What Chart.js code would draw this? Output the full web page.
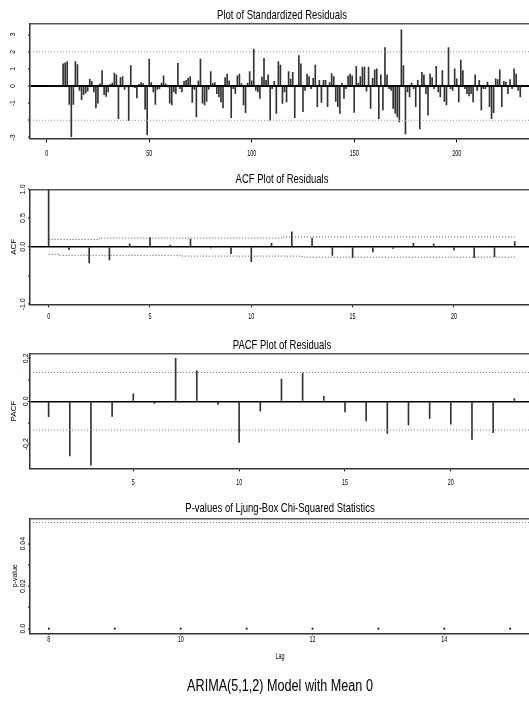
<!DOCTYPE html>
<html><head><meta charset="utf-8">
<script src="https://cdn.jsdelivr.net/npm/chart.js@4.4.1/dist/chart.umd.min.js"></script>
<style>
html,body{margin:0;padding:0;background:#fff;overflow:hidden;width:529px;height:701px;}
canvas{position:absolute;left:0;}
</style></head><body>
<canvas id="c1" width="534" height="165" style="top:0px;width:534px;height:165px"></canvas>
<canvas id="c2" width="534" height="160" style="top:165px;width:534px;height:160px"></canvas>
<canvas id="c3" width="534" height="165" style="top:325px;width:534px;height:165px"></canvas>
<canvas id="c4" width="534" height="211" style="top:490px;width:534px;height:211px"></canvas>
<script>
// ---------- DATA ----------
const residuals = [0,0,0,0,0,0,0,1.3,1.35,1.43,-1.08,-2.95,-1.08,1.43,1.25,-0.25,-0.8,-0.5,-0.4,-0.3,
0.4,0.27,-0.35,-1.27,-1.0,0.13,0.9,-0.5,-0.6,-0.35,0.1,0.17,0.75,0.65,-1.9,0.5,0.55,-0.2,-0.05,-2.0,
1.2,-0.05,-0.1,-0.7,0.1,0.2,0.15,-1.35,-2.85,1.58,0.2,-0.35,-1.08,-0.2,-0.15,0.17,0.6,0.13,-0.05,-1.0,
-1.1,-0.35,-0.45,1.33,-0.15,-0.35,0.27,0.33,0.45,0.55,-0.96,-0.2,-1.8,0.3,1.58,-1.0,-1.1,-0.9,-0.2,0.85,
0.15,0.2,-0.45,-0.63,-0.92,-1.27,0.5,0.7,0.3,-1.85,-0.15,-0.45,0.6,0.7,0.15,-1.1,-1.55,0.17,0.85,0.3,
2.15,-0.25,-0.35,-0.73,0.52,1.62,0.33,0.65,-2.0,-0.15,0.27,-1.6,1.43,1.23,-1.02,-0.35,-0.92,0.85,0.4,0.8,
-1.85,0.05,1.77,1.3,-1.5,-0.25,0.7,0.55,-0.15,0.45,1.23,-1.2,0.33,-0.96,0.33,0.33,-1.2,0.2,0.72,0.55,
-0.9,-1.2,-1.6,0.17,-0.73,-0.15,0.58,0.7,0.6,-1.54,1.15,0.17,0.55,1.1,1.1,-0.3,1.1,-1.3,0.45,0.95,
1.0,-1.9,0.65,-1.4,2.25,0.65,-0.15,-0.25,-1.3,-1.6,-1.8,-2.1,3.28,1.2,-2.8,-0.35,-0.63,0.17,-0.15,-1.2,
0.33,-2.5,0.8,0.65,-0.45,-1.7,0.7,0.5,-0.15,1.15,-0.35,-0.63,0.9,-0.9,-1.1,2.25,-0.15,-0.25,1.0,0.42,
-0.92,1.52,0.9,-0.15,-0.45,-0.58,-0.45,-0.92,0.65,-0.25,0.33,-1.4,-0.15,-0.15,0.23,-1.2,-1.9,-1.55,0.42,0.38,
0.95,-1.2,0.27,0.23,-0.45,0.38,-0.15,1.0,0.7,-0.25,-0.63];
const residualTime = residuals.map((_, i) => i + 1);
const residBand = [-2, 2];
const residXTicks = [0, 50, 100, 150, 200];
const residYTicks = [-3, -2, -1, 0, 1, 2, 3];
const residYLabels = ['-3', '', '-1', '0', '1', '2', '3'];

const acfLags = [0,1,2,3,4,5,6,7,8,9,10,11,12,13,14,15,16,17,18,19,20,21,22,23];
const acfValues = [1.0,-0.05,-0.28,-0.23,0.05,0.16,0.03,0.13,-0.02,-0.12,-0.26,0.06,0.26,0.15,-0.15,-0.19,-0.09,-0.03,0.06,0.05,-0.06,-0.19,-0.17,0.09];
const acfUpper = [0.128,0.128,0.128,0.152,0.152,0.152,0.152,0.152,0.152,0.152,0.152,0.152,0.172,0.172,0.172,0.172,0.172,0.172,0.172,0.172,0.172,0.172,0.172,0.172];
const acfLower = [-0.13,-0.148,-0.148,-0.148,-0.148,-0.148,-0.148,-0.162,-0.162,-0.162,-0.162,-0.162,-0.162,-0.18,-0.18,-0.18,-0.18,-0.18,-0.18,-0.18,-0.18,-0.18,-0.18,-0.18];
const acfXTicks = [0, 5, 10, 15, 20];
const acfYTicks = [-1, -0.5, 0, 0.5, 1];
const acfYLabels = ['-1.0', '', '0.0', '0.5', '1.0'];

const pacfLags = [1,2,3,4,5,6,7,8,9,10,11,12,13,14,15,16,17,18,19,20,21,22,23];
const pacfValues = [-0.072,-0.254,-0.297,-0.07,0.035,-0.01,0.2,0.142,-0.015,-0.192,-0.046,0.103,0.131,0.023,-0.05,-0.092,-0.15,-0.11,-0.08,-0.107,-0.177,-0.146,0.012];
const pacfBand = [-0.134, 0.134];
const pacfXTicks = [5, 10, 15, 20];
const pacfYTicks = [-0.2, -0.1, 0, 0.1, 0.2];
const pacfYLabels = ['-0.2', '', '0.0', '', '0.2'];

const lbLags = [8, 9, 10, 11, 12, 13, 14, 15];
const lbPValues = [0, 0, 0, 0, 0, 0, 0, 0];
const lbLevel = 0.05;
const lbXTicks = [8, 10, 12, 14];
const lbYTicks = [0, 0.01, 0.02, 0.03, 0.04];
const lbYLabels = ['0.0', '', '0.02', '', '0.04'];

// ---------- STYLE ----------
// Narrow (condensed) text: Liberation Sans drawn horizontally compressed, like the original S-PLUS output.
const FN = "'Liberation Sans Narrow','Liberation Sans',sans-serif";
const FA = "'Liberation Sans',Arial,sans-serif";
const FRAME = '#333';

(function () {
  const orig = CanvasRenderingContext2D.prototype.fillText;
  CanvasRenderingContext2D.prototype.fillText = function (t, x, y, mw) {
    const f = this.font || '';
    if (f.indexOf('Narrow') >= 0) {
      const m = /([\d.]+)px/.exec(f);
      const sx = (m && parseFloat(m[1]) >= 11) ? 0.73 : 0.6;
      this.save();
      this.scale(sx, 1);
      if (mw === undefined || mw === null) orig.call(this, t, x / sx, y);
      else orig.call(this, t, x / sx, y, mw / sx);
      this.restore();
    } else {
      if (mw === undefined || mw === null) orig.call(this, t, x, y);
      else orig.call(this, t, x, y, mw);
    }
  };
})();

function pts(xs, ys) { return ys.map((v, i) => ({x: xs[i], y: v})); }
function hline(xmin, xmax, y) { return [{x: xmin, y: y}, {x: xmax, y: y}]; }

function spikes(xs, ys) {
  return {type: 'bar', data: pts(xs, ys), backgroundColor: '#333', borderWidth: 0,
          barThickness: 1, grouped: false, xAxisID: 'x', yAxisID: 'y', order: 1};
}
function dotted(data, color, stepped) {
  return {type: 'line', data: data, borderColor: color, borderWidth: 1, borderDash: [1, 2],
          pointRadius: 0, fill: false, stepped: stepped || false, xAxisID: 'x', yAxisID: 'y', order: 0};
}

function makeChart(id, s) {
  return new Chart(document.getElementById(id), {
    type: 'bar',
    data: {datasets: s.datasets},
    options: {
      responsive: false, animation: false, events: [],
      layout: {padding: 0},
      plugins: {legend: {display: false}, tooltip: {enabled: false},
                title: s.caption || {display: false}},
      scales: {
        x: {
          type: 'linear', position: 'bottom', min: s.xmin, max: s.xmax, offset: false,
          afterBuildTicks: sc => { sc.ticks = s.xTicks.map(v => ({value: v})); },
          afterFit: sc => { sc.height = s.bottomH; },
          ticks: {autoSkip: false, minRotation: 0, maxRotation: 0, padding: s.xPad, color: '#000',
                  font: {family: FN, size: 9}, callback: v => String(v)},
          grid: {offset: false, drawOnChartArea: false, drawTicks: true, tickLength: s.xTl, color: '#000', tickWidth: 1},
          border: {display: true, color: FRAME, width: 1.5},
          title: s.xTitle || {display: false}
        },
        xTop: {
          type: 'linear', position: 'top', min: s.xmin, max: s.xmax, offset: false,
          afterFit: sc => { sc.height = s.topH; },
          ticks: {display: false},
          grid: {display: false, drawTicks: false},
          border: {display: true, color: '#555', width: 1.5},
          title: {display: true, text: s.title, color: '#000', font: {family: FN, size: 13},
                  padding: {top: s.titlePad, bottom: 0}}
        },
        y: {
          type: 'linear', position: 'left', min: s.ymin, max: s.ymax,
          afterBuildTicks: sc => { sc.ticks = s.yTicks.map(v => ({value: v})); },
          afterFit: sc => { sc.width = 30; },
          ticks: {autoSkip: false, minRotation: 90, maxRotation: 90, crossAlign: 'center',
                  padding: s.yPad, color: '#000', font: {family: FA, size: 7},
                  callback: (v) => s.yLabels[s.yTicks.findIndex(t => Math.abs(t - v) < 1e-9)]},
          grid: {drawOnChartArea: true, drawTicks: true, tickLength: 2, tickColor: '#000', tickWidth: 1,
                 color: c => (c.tick && Math.abs(c.tick.value) < 1e-12 && s.zeroLine) ? '#000' : 'rgba(0,0,0,0)',
                 lineWidth: c => (c.tick && Math.abs(c.tick.value) < 1e-12 && s.zeroLine) ? s.zeroLine : 0},
          border: {display: true, color: FRAME, width: 1.5},
          title: s.yTitle || {display: false}
        }
      }
    }
  });
}

// Panel 1: standardized residuals
const X1MIN = -8.15, X1MAX = 237.7;
makeChart('c1', {
  title: 'Plot of Standardized Residuals', titlePad: 7.2, topH: 24, bottomH: 26.7,
  xmin: X1MIN, xmax: X1MAX, ymin: -3.05, ymax: 3.62,
  xTicks: residXTicks, xTl: 4, xPad: 6.0,
  yTicks: residYTicks, yLabels: residYLabels, yPad: 11.4, zeroLine: 2,
  datasets: [
    spikes(residualTime, residuals),
    dotted(hline(X1MIN, X1MAX, residBand[1]), '#7f9cc4'),
    dotted(hline(X1MIN, X1MAX, residBand[0]), '#7f9cc4')
  ]
});

// Panel 2: ACF
makeChart('c2', {
  title: 'ACF Plot of Residuals', titlePad: 6.5, topH: 24.3, bottomH: 20.7,
  xmin: -0.92, xmax: 23.95, ymin: -1, ymax: 1,
  xTicks: acfXTicks, xTl: 3, xPad: 4.3,
  yTicks: acfYTicks, yLabels: acfYLabels, yPad: -1.5, zeroLine: 1.5,
  yTitle: {display: true, text: 'ACF', color: '#000', font: {family: FA, size: 8}, padding: {top: 8.5, bottom: 0}},
  datasets: [
    spikes(acfLags, acfValues),
    dotted(pts(acfLags, acfUpper), '#2a4f8f', 'middle'),
    dotted(pts(acfLags, acfLower), '#2a4f8f', 'middle')
  ]
});

// Panel 3: PACF
const X3MIN = 0.12, X3MAX = 23.93;
makeChart('c3', {
  title: 'PACF Plot of Residuals', titlePad: 12.2, topH: 29, bottomH: 21.7,
  xmin: X3MIN, xmax: X3MAX, ymin: -0.312, ymax: 0.22,
  xTicks: pacfXTicks, xTl: 3, xPad: 5.5,
  yTicks: pacfYTicks, yLabels: pacfYLabels, yPad: -4, zeroLine: 1.5,
  yTitle: {display: true, text: 'PACF', color: '#000', font: {family: FA, size: 8}, padding: {top: 8.5, bottom: 0}},
  datasets: [
    spikes(pacfLags, pacfValues),
    dotted(hline(X3MIN, X3MAX, pacfBand[1]), '#5f86c0'),
    dotted(hline(X3MIN, X3MAX, pacfBand[0]), '#5f86c0')
  ]
});

// Panel 4: Ljung-Box p-values
const X4MIN = 7.714, X4MAX = 15.30;
makeChart('c4', {
  title: 'P-values of Ljung-Box Chi-Squared Statistics', titlePad: 10.5, topH: 28.3, bottomH: 41.04,
  xmin: X4MIN, xmax: X4MAX, ymin: -0.0022, ymax: 0.052,
  xTicks: lbXTicks, xTl: 2, xPad: -1.2,
  yTicks: lbYTicks, yLabels: lbYLabels, yPad: -1.8, zeroLine: 0,
  yTitle: {display: true, text: 'p-value', color: '#000', font: {family: FA, size: 7}, padding: {top: 10.8, bottom: 0}},
  xTitle: {display: true, text: 'Lag', color: '#000', font: {family: FN, size: 9}, padding: {top: 0, bottom: 12.2}},
  caption: {display: true, position: 'bottom', fullSize: false, text: 'ARIMA(5,1,2) Model with Mean 0',
            color: '#000', font: {family: FN, size: 17.3, weight: 'normal'}, padding: {top: 2, bottom: 3.9}},
  datasets: [
    {type: 'scatter', data: pts(lbLags, lbPValues), pointStyle: 'rect', pointRadius: 1.2,
     backgroundColor: '#000', borderWidth: 0, showLine: false, xAxisID: 'x', yAxisID: 'y'},
    dotted(hline(X4MIN, X4MAX, lbLevel), '#5f86c0')
  ]
});
</script>
</body></html>
